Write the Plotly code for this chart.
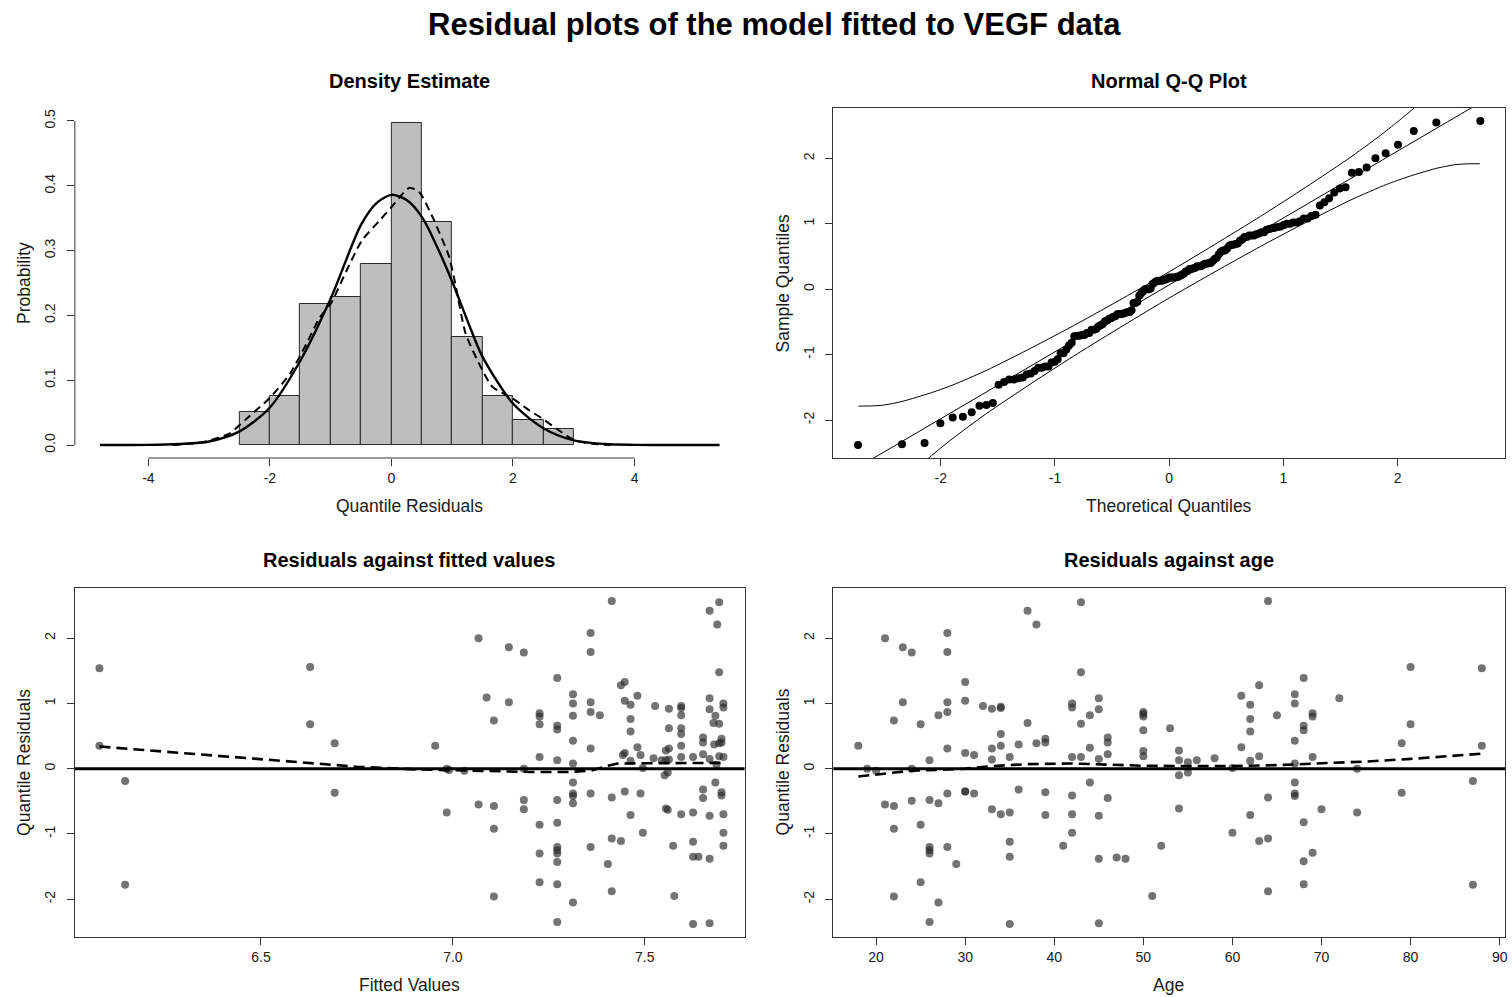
import plotly.graph_objects as go
from statistics import NormalDist

# ---------------- data ----------------
# Density estimate panel
hist_edges = [-2.5, -2.0, -1.5, -1.0, -0.5, 0.0, 0.5, 1.0, 1.5, 2.0, 2.5, 3.0]
hist_density = [0.051, 0.076, 0.217, 0.229, 0.280, 0.497, 0.344, 0.166, 0.076, 0.038, 0.025]

normal_x = [-4.8, -4.0, -3.5, -3.0, -2.5, -2.0, -1.5, -1.0, -0.5, -0.25, 0.0, 0.25, 0.5,
            0.75, 1.0, 1.25, 1.5, 2.0, 2.5, 3.0, 3.5, 4.0, 4.5, 5.4]
normal_y = [0.0, 0.0003, 0.0017, 0.0055, 0.021, 0.058, 0.130, 0.226, 0.340, 0.373, 0.386,
            0.378, 0.352, 0.306, 0.252, 0.192, 0.136, 0.064, 0.026, 0.0072, 0.0016, 0.0003, 0.0, 0.0]

kde_x = [-3.6, -3.2, -3.0, -2.66, -2.38, -2.0, -1.67, -1.4, -1.18, -1.0, -0.74, -0.49, -0.2,
         0.0, 0.13, 0.3, 0.46, 0.68, 0.95, 1.06, 1.22, 1.44, 1.66, 1.99, 2.26, 2.48, 2.75,
         3.0, 3.3, 3.6]
kde_y = [0.0, 0.003, 0.007, 0.018, 0.041, 0.073, 0.110, 0.156, 0.197, 0.218, 0.269, 0.315,
         0.346, 0.367, 0.382, 0.397, 0.390, 0.351, 0.290, 0.244, 0.172, 0.126, 0.090, 0.072,
         0.054, 0.041, 0.023, 0.008, 0.002, 0.0]

# Residuals against age
age = [18, 19, 20, 21, 21, 22, 22, 22, 22, 23, 23, 24, 24, 24, 25, 25, 25,
       26, 26, 26, 26, 26, 26, 27, 27, 27, 28, 28, 28, 28, 28, 28, 28, 29,
       30, 30, 30, 30, 30, 31, 31, 32, 33, 33, 33, 33, 34, 34, 34, 34, 34,
       35, 35, 35, 35, 35, 36, 36, 37, 37, 38, 38, 39, 39, 39, 39, 41,
       42, 42, 42, 42, 42, 42, 43, 43, 43, 43, 44, 44, 44, 45, 45, 45, 45, 45, 45,
       46, 46, 46, 46, 47, 48, 50, 50, 50, 50, 50, 50, 51, 52, 53, 54, 54, 54, 54,
       55, 55, 56, 58, 60, 60, 61, 61, 62, 62, 62, 62, 62, 63, 63, 63, 64, 64, 64, 64,
       65, 67, 67, 67, 67, 67, 67, 67, 68, 68, 68, 68, 68, 68, 69, 69, 69, 69, 70, 72,
       74, 74, 79, 79, 80, 80, 87, 87, 88, 88]
res_age = [0.35, 0.0, -0.03, 2.0, -0.55, 0.74, -0.92, -1.96, -0.57, 1.86, 1.02, 1.78, 0.0, -0.49,
           0.68, -0.86, -1.74,
           0.13, -0.48, -1.2, -1.25, -1.3, -2.35, 0.82, -0.53, -2.05, 2.08, 1.79, 1.02, 0.87, 0.31,
           -0.38, -1.2, -1.46,
           1.33, 1.04, 0.24, -0.35, -0.35, 0.21, -0.38, 0.96, 0.92, 0.31, 0.14, -0.62, 0.95, 0.93,
           0.53, 0.35, -0.7,
           0.18, -0.67, -1.12, -1.35, -2.38, 0.37, -0.32, 2.42, 0.7, 2.21, 0.39, 0.46, 0.4, -0.36,
           -0.71, -1.18,
           1.0, 0.94, 0.18, -0.41, -0.7, -0.98, 2.55, 1.48, 0.69, 0.18, 0.82, 0.32, -0.21, 1.08, 0.91,
           0.15, -0.72, -1.38, -2.37,
           0.48, 0.4, 0.22, -0.45, -1.36, -1.38, 0.87, 0.84, 0.8, 0.59, 0.27, 0.19, -1.95, -1.18,
           0.62, 0.28, 0.13, -0.1, -0.61,
           0.1, -0.06, 0.13, 0.16, 0.01, -0.98, 1.12, 0.33, 0.98, 0.76, 0.57, 0.12, -0.71, 1.28, 0.19,
           -1.11, 2.57, -0.44, -1.07, -1.88,
           0.82, 1.14, 1.0, 0.43, 0.08, -0.21, -0.38, -0.42, 1.39, 0.66, 0.59, -0.82, -1.42, -1.77,
           0.85, 0.8, 0.18, -1.29, -0.62, 1.08,
           0.0, -0.67, 0.39, -0.37, 1.56, 0.68, -0.19, -1.78, 1.54, 0.35]
smooth_age_x = [18, 20, 24, 27, 30, 33, 37, 42, 45, 50, 55, 60, 65, 70, 75, 80, 88]
smooth_age_y = [-0.12, -0.09, -0.03, -0.02, 0.0, 0.04, 0.07, 0.08, 0.065, 0.045, 0.04, 0.04,
                0.055, 0.08, 0.11, 0.15, 0.23]

# Residuals against fitted values
fitted = [6.079, 6.079, 6.146, 6.146, 6.628, 6.628, 6.692, 6.692, 6.954, 6.984, 6.984, 6.99, 7.03,
          7.067, 7.067, 7.088, 7.107, 7.107, 7.107, 7.107, 7.146, 7.146,
          7.185, 7.185, 7.185, 7.185,
          7.226, 7.226, 7.226, 7.226, 7.226, 7.226, 7.226,
          7.272, 7.272, 7.272, 7.272, 7.272, 7.272, 7.272, 7.272, 7.272, 7.272, 7.272, 7.272,
          7.313, 7.313, 7.313, 7.313, 7.313, 7.313, 7.313, 7.313, 7.313, 7.313,
          7.359, 7.359, 7.359, 7.359, 7.359, 7.359, 7.359,
          7.383, 7.404, 7.414, 7.414, 7.414, 7.414, 7.438, 7.438,
          7.448, 7.448, 7.448, 7.448, 7.443,
          7.463, 7.463, 7.463, 7.463, 7.463, 7.481, 7.481, 7.489, 7.489, 7.495, 7.495,
          7.527, 7.523, 7.544, 7.552, 7.555, 7.555, 7.555, 7.56, 7.56,
          7.563, 7.563, 7.563, 7.563, 7.574, 7.577,
          7.595, 7.595, 7.595, 7.595, 7.595, 7.595, 7.595, 7.595,
          7.626, 7.626, 7.626, 7.626, 7.626, 7.64,
          7.652, 7.652, 7.652, 7.652, 7.652,
          7.669, 7.669, 7.669, 7.669, 7.669, 7.669, 7.669,
          7.679, 7.681, 7.684, 7.684, 7.687, 7.689,
          7.694, 7.694, 7.694, 7.694, 7.694,
          7.7, 7.7, 7.7, 7.7,
          7.705, 7.705, 7.705, 7.705, 7.705, 7.705]
res_fitted = [1.54, 0.35, -0.19, -1.78, 1.56, 0.68, 0.39, -0.37, 0.35, 0.0, -0.67, -0.02, -0.03,
              2.0, -0.55, 1.09, 0.74, -0.57, -0.92, -1.96, 1.86, 1.02,
              1.78, 0.0, -0.48, -0.62,
              0.85, 0.8, 0.68, 0.18, -0.86, -1.3, -1.74,
              1.39, 0.66, 0.6, 0.13, -0.48, -0.83, -1.2, -1.25, -1.3, -1.43, -1.77, -2.35,
              1.14, 1.0, 0.81, 0.43, 0.08, -0.21, -0.38, -0.42, -0.53, -2.05,
              2.08, 1.79, 1.02, 0.87, 0.31, -0.38, -1.2,
              0.82, -1.46, 2.57, -0.44, -1.07, -1.88, 1.28, -1.11,
              1.33, 1.04, 0.24, -0.35, 0.21,
              0.98, 0.76, 0.57, 0.12, -0.71, 1.12, 0.33, 0.21, -0.38, 0.01, -0.98,
              0.96, 0.16, 0.13, -0.1, 0.13, 0.28, -0.61, -0.06, -0.63,
              0.92, 0.62, 0.31, 0.14, -1.18, -1.95,
              0.96, 0.93, 0.82, 0.62, 0.53, 0.35, 0.18, -0.7,
              0.18, -1.12, -1.35, -2.38, -0.67, -1.35,
              0.48, 0.4, 0.22, -0.32, -0.45,
              2.42, 1.08, 0.91, 0.15, -0.72, -1.38, -2.37,
              0.7, 0.37, 0.81, -0.21, 0.06, 2.21,
              2.55, 1.48, 0.69, 0.39, 0.19,
              0.46, 0.4, -0.36, -0.41,
              1.0, 0.94, 0.18, -0.7, -0.98, -1.18]
smooth_fit_x = [6.079, 6.3, 6.5, 6.75, 6.9, 7.0, 7.1, 7.2, 7.3, 7.36, 7.40, 7.43, 7.55, 7.71]
smooth_fit_y = [0.34, 0.24, 0.15, 0.03, -0.01, -0.025, -0.04, -0.05, -0.05, -0.03, 0.04, 0.08,
                0.085, 0.09]

# Normal Q-Q reference line and pointwise envelope
qq_intercept = 0.066
qq_slope = 1.023
env_x = [-2.72, -2.6, -2.5, -2.4, -2.32, -2.1, -1.9, -1.6, -1.2, -0.8, -0.4, 0.0,
         0.4, 0.8, 1.2, 1.6, 1.9, 2.1, 2.32, 2.4, 2.5, 2.6, 2.72]
env_half = [0.93, 0.81, 0.72, 0.65, 0.60, 0.49, 0.41, 0.33, 0.27, 0.23, 0.21, 0.20,
            0.21, 0.23, 0.27, 0.33, 0.41, 0.49, 0.60, 0.65, 0.72, 0.81, 0.93]

# ---------------- figure ----------------
W, H = 1512, 997
FONT = "Liberation Sans, Arial, sans-serif"
INK = "#1a1a1a"


def px_x(p):
    return p / W


def px_y(p):
    return 1 - p / H


fig = go.Figure()

# Panel 1: histogram + densities
centers = [(a + b) / 2 for a, b in zip(hist_edges[:-1], hist_edges[1:])]
widths = [b - a for a, b in zip(hist_edges[:-1], hist_edges[1:])]
fig.add_trace(go.Bar(x=centers, y=hist_density, width=widths, xaxis="x", yaxis="y",
                     marker=dict(color="#bebebe", line=dict(color="#2a2a2a", width=1)),
                     showlegend=False, hoverinfo="skip"))
fig.add_trace(go.Scatter(x=normal_x, y=normal_y, mode="lines", xaxis="x", yaxis="y",
                         line=dict(color="black", width=2.4, shape="spline", smoothing=0.8),
                         showlegend=False, hoverinfo="skip"))
fig.add_trace(go.Scatter(x=kde_x, y=kde_y, mode="lines", xaxis="x", yaxis="y",
                         line=dict(color="black", width=2, dash="8px,5px", shape="spline",
                                   smoothing=0.6),
                         showlegend=False, hoverinfo="skip"))

# Panel 2: Q-Q plot
sample_q = sorted(res_age)
n = len(sample_q)
a = 3 / 8 if n <= 10 else 0.5
nd = NormalDist()
theo_q = [nd.inv_cdf((i + 1 - a) / (n + 1 - 2 * a)) for i in range(n)]
line_x = [-3.5, 3.5]
line_y = [qq_intercept + qq_slope * v for v in line_x]
upper = [qq_intercept + qq_slope * v + h for v, h in zip(env_x, env_half)]
lower = [qq_intercept + qq_slope * v - h for v, h in zip(env_x, env_half)]
fig.add_trace(go.Scatter(x=line_x, y=line_y, mode="lines", xaxis="x2", yaxis="y2",
                         line=dict(color="black", width=1), showlegend=False,
                         hoverinfo="skip"))
for ys in (upper, lower):
    fig.add_trace(go.Scatter(x=env_x, y=ys, mode="lines", xaxis="x2", yaxis="y2",
                             line=dict(color="black", width=1, shape="spline", smoothing=0.6),
                             showlegend=False, hoverinfo="skip"))
fig.add_trace(go.Scatter(x=theo_q, y=sample_q, mode="markers", xaxis="x2", yaxis="y2",
                         marker=dict(color="black", size=8, line=dict(width=0)),
                         showlegend=False, hoverinfo="skip"))

# Panel 3: residuals vs fitted
fig.add_trace(go.Scatter(x=fitted, y=res_fitted, mode="markers", xaxis="x3", yaxis="y3",
                         marker=dict(color="rgba(40,40,40,0.65)", size=8, line=dict(width=0)),
                         showlegend=False, hoverinfo="skip"))
fig.add_trace(go.Scatter(x=smooth_fit_x, y=smooth_fit_y, mode="lines", xaxis="x3", yaxis="y3",
                         line=dict(color="black", width=2.6, dash="11px,6px"),
                         showlegend=False, hoverinfo="skip"))

# Panel 4: residuals vs age
fig.add_trace(go.Scatter(x=age, y=res_age, mode="markers", xaxis="x4", yaxis="y4",
                         marker=dict(color="rgba(40,40,40,0.65)", size=8, line=dict(width=0)),
                         showlegend=False, hoverinfo="skip"))
fig.add_trace(go.Scatter(x=smooth_age_x, y=smooth_age_y, mode="lines", xaxis="x4", yaxis="y4",
                         line=dict(color="black", width=2.6, dash="11px,6px"),
                         showlegend=False, hoverinfo="skip"))

# ---------------- axes ----------------
tickfont = dict(family=FONT, size=14, color=INK)
common = dict(showgrid=False, zeroline=False, ticks="outside", ticklen=7, tickwidth=1,
              tickcolor="#333", tickfont=tickfont, fixedrange=True)
box = dict(showline=True, mirror=True, linecolor="#333", linewidth=1)

dom_x_left = [px_x(75), px_x(746)]
dom_x_right = [px_x(835), px_x(1508)]
dom_y_top = [px_y(458), px_y(108)]
dom_y_bot = [px_y(937), px_y(588)]

p1_xt = [-4, -2, 0, 2, 4]
p1_yt = [0.0, 0.1, 0.2, 0.3, 0.4, 0.5]
qq_xt = [-2, -1, 0, 1, 2]
res_yt = [-2, -1, 0, 1, 2]
fit_xt = [6.5, 7.0, 7.5]
age_xt = [20, 30, 40, 50, 60, 70, 80, 90]

XS = 0   # x tick label standoff
YS = 6   # y tick label standoff

fig.update_layout(
    width=W, height=H, margin=dict(l=0, r=0, t=0, b=0),
    paper_bgcolor="white", plot_bgcolor="white", bargap=0,
    font=dict(family=FONT, color=INK),
    xaxis=dict(domain=dom_x_left, anchor="y", range=[-5.21, 5.81], tickvals=p1_xt,
               ticktext=[str(v) for v in p1_xt], showline=False, ticklabelstandoff=XS, **common),
    yaxis=dict(domain=dom_y_top, anchor="x", range=[-0.02, 0.52], tickvals=p1_yt,
               ticktext=[f"{v:.1f}" for v in p1_yt], tickangle=-90, showline=False,
               ticklabelstandoff=YS, **common),
    xaxis2=dict(domain=dom_x_right, anchor="y2", range=[-2.94, 2.94], tickvals=qq_xt,
                ticktext=[str(v) for v in qq_xt], ticklabelstandoff=XS, **common, **box),
    yaxis2=dict(domain=dom_y_top, anchor="x2", range=[-2.58, 2.77], tickvals=res_yt,
                ticktext=[str(v) for v in res_yt], tickangle=-90, ticklabelstandoff=YS,
                **common, **box),
    xaxis3=dict(domain=dom_x_left, anchor="y3", range=[6.015, 7.76], tickvals=fit_xt,
                ticktext=[f"{v:.1f}" for v in fit_xt], ticklabelstandoff=XS, **common, **box),
    yaxis3=dict(domain=dom_y_bot, anchor="x3", range=[-2.58, 2.77], tickvals=res_yt,
                ticktext=[str(v) for v in res_yt], tickangle=-90, ticklabelstandoff=YS,
                **common, **box),
    xaxis4=dict(domain=dom_x_right, anchor="y4", range=[15.2, 90.6], tickvals=age_xt,
                ticktext=[str(v) for v in age_xt], ticklabelstandoff=XS, **common, **box),
    yaxis4=dict(domain=dom_y_bot, anchor="x4", range=[-2.58, 2.77], tickvals=res_yt,
                ticktext=[str(v) for v in res_yt], tickangle=-90, ticklabelstandoff=YS,
                **common, **box),
)

# R-style axis lines for the histogram panel (spanning first to last tick)
fig.add_shape(type="line", xref="x", yref="y domain", x0=p1_xt[0], x1=p1_xt[-1], y0=0, y1=0,
              line=dict(color="#333", width=1))
fig.add_shape(type="line", xref="x domain", yref="y", x0=0, x1=0, y0=p1_yt[0], y1=p1_yt[-1],
              line=dict(color="#333", width=1))
# horizontal zero lines
for xr, yr in (("x3 domain", "y3"), ("x4 domain", "y4")):
    fig.add_shape(type="line", xref=xr, yref=yr, x0=0, x1=1, y0=0, y1=0,
                  line=dict(color="black", width=3))

# ---------------- text ----------------
ann = []


def text(s, x, y, size, bold=False, angle=0):
    ann.append(dict(text=f"<b>{s}</b>" if bold else s, x=px_x(x), y=px_y(y),
                    xref="paper", yref="paper", showarrow=False, textangle=angle,
                    xanchor="center", yanchor="middle",
                    font=dict(family=FONT, size=size, color="black" if bold else INK)))


text("Residual plots of the model fitted to VEGF data", 776, 24, 31, bold=True)
text("Density Estimate", 410, 81, 20, bold=True)
text("Normal Q-Q Plot", 1171, 81, 20, bold=True)
text("Residuals against fitted values", 410, 560, 20, bold=True)
text("Residuals against age", 1171, 560, 20, bold=True)
text("Quantile Residuals", 410, 506, 17.5)
text("Theoretical Quantiles", 1171, 506, 17.5)
text("Fitted Values", 410, 985, 17.5)
text("Age", 1171, 985, 17.5)
text("Probability", 24, 283, 17.5, angle=-90)
text("Sample Quantiles", 785, 283, 17.5, angle=-90)
text("Quantile Residuals", 24, 762, 17.5, angle=-90)
text("Quantile Residuals", 785, 762, 17.5, angle=-90)
fig.update_layout(annotations=ann)

fig.write_html("out.html")
